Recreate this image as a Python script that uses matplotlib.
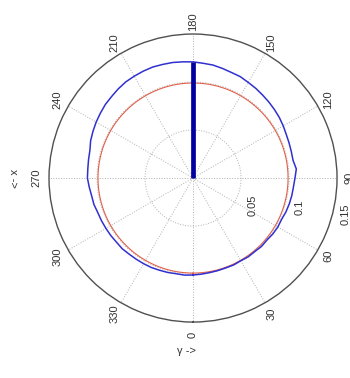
import numpy as np
import matplotlib
matplotlib.use("Agg")
import matplotlib.pyplot as plt

# jari-jari kurva terukur (biru) tiap 5 derajat
biru_sudut = list(range(0, 361, 5))
biru_r = [0.1010, 0.1005, 0.1000, 0.0998, 0.0996, 0.0999, 0.0995, 0.1002, 0.1000, 0.1008,
          0.1005, 0.1015, 0.1020, 0.1018, 0.1030, 0.1038, 0.1045, 0.1050, 0.1062, 0.1080,
          0.1058, 0.1060, 0.1065, 0.1072, 0.1085, 0.1098, 0.1108, 0.1118, 0.1128, 0.1140,
          0.1150, 0.1165, 0.1170, 0.1182, 0.1195, 0.1200, 0.1210, 0.1215, 0.1222, 0.1225,
          0.1230, 0.1228, 0.1225, 0.1222, 0.1212, 0.1200, 0.1192, 0.1178, 0.1165, 0.1150,
          0.1135, 0.1112, 0.1105, 0.1100, 0.1100, 0.1085, 0.1072, 0.1068, 0.1055, 0.1052,
          0.1048, 0.1045, 0.1040, 0.1042, 0.1035, 0.1032, 0.1030, 0.1028, 0.1022, 0.1018,
          0.1012, 0.1015, 0.1010]
# lingkaran referensi (merah)
merah_r = 0.099
# garis arah (biru tua)
arah_sudut = 180
arah_r = 0.121

sudut_label = list(range(0, 360, 30))
ring_r = [0.05, 0.1, 0.15]
ring_label = ["0.05", "0.1", "0.15"]

huruf = dict(family="Liberation Sans", fontsize=8, color="#333333")

fig = plt.figure(figsize=(3.5, 3.78), dpi=100)
ax = fig.add_axes([0.140, 0.148, 0.823, 0.762], projection="polar")
ax.set_theta_zero_location("S")
ax.set_theta_direction(1)
ax.set_rlim(0, 0.15)

# grid titik-titik
ax.set_thetagrids(sudut_label, labels=[""] * len(sudut_label))
ax.set_rgrids(ring_r[:2], labels=["", ""])
ax.grid(True, linestyle=":", color="#b0b0b0", linewidth=0.7)
ax.spines["polar"].set_color("#505050")
ax.spines["polar"].set_linewidth(1.0)

# lingkaran merah
th = np.linspace(0, 2 * np.pi, 361)
ax.plot(th, np.full_like(th, merah_r), color="#e0604a", linewidth=0.8)

# kurva biru
ax.plot(np.deg2rad(biru_sudut), biru_r, color="#3030d0", linewidth=1.1)

# garis arah tebal
ax.plot([np.deg2rad(arah_sudut)] * 2, [0, arah_r], color="#0000a0", linewidth=3.4,
        solid_capstyle="butt")

# label sudut (diputar)
for a in sudut_label:
    ax.text(np.deg2rad(a), 0.163, str(a), rotation=90, ha="center", va="center", **huruf)

# label jari-jari
W, H = 350.0, 378.0
posisi_ring = [(253, 205), (300, 207), (346, 214)]
for (px, py), s in zip(posisi_ring, ring_label):
    fig.text(px / W, 1 - py / H, s, rotation=90, ha="center", va="center", **huruf)

# label sumbu
fig.text(186 / W, 1 - 351 / H, "γ ->", ha="center", va="center", **huruf)
fig.text(13 / W, 1 - 178 / H, "x ->", rotation=-90, ha="center", va="center", **huruf)

fig.savefig("out.png", dpi=100)
